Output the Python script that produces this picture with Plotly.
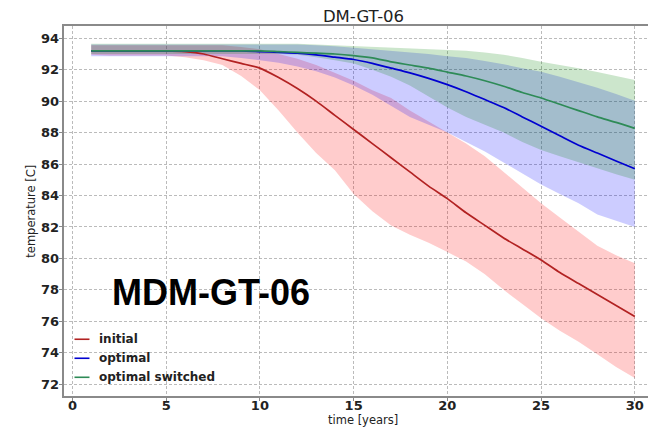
import plotly.graph_objects as go

# ---------------- data ----------------
years = list(range(1, 31))

initial_mean = [93.2, 93.2, 93.2, 93.2, 93.2, 93.15, 93.0, 92.7, 92.4, 92.1,
                91.5, 90.8, 90.0, 89.1, 88.2, 87.3, 86.4, 85.5, 84.6, 83.8,
                82.9, 82.1, 81.3, 80.6, 79.9, 79.1, 78.4, 77.7, 77.0, 76.3]
initial_low = [92.95, 92.9, 92.9, 92.9, 92.9, 92.8, 92.6, 92.3, 91.6, 90.7,
               89.4, 88.0, 86.7, 85.6, 84.1, 83.0, 82.1, 81.5, 81.0, 80.4,
               79.8, 79.0, 78.0, 77.1, 76.2, 75.4, 74.7, 73.9, 73.1, 72.4]
initial_high = [93.55, 93.55, 93.55, 93.55, 93.55, 93.55, 93.55, 93.55, 93.45, 93.3,
                93.0, 92.7, 92.3, 91.8, 91.3, 90.7, 90.2, 89.4, 88.7, 88.0,
                87.3, 86.5, 85.5, 84.5, 83.5, 82.6, 81.7, 80.8, 80.2, 79.7]

optimal_mean = [93.2, 93.2, 93.2, 93.2, 93.2, 93.2, 93.2, 93.2, 93.2, 93.15,
                93.1, 93.05, 92.95, 92.8, 92.65, 92.4, 92.1, 91.8, 91.45, 91.05,
                90.6, 90.1, 89.6, 89.0, 88.4, 87.8, 87.2, 86.7, 86.2, 85.7]
optimal_low = [92.85, 92.85, 92.85, 92.85, 92.85, 92.85, 92.85, 92.85, 92.75, 92.6,
               92.45, 92.2, 91.9, 91.5, 91.0, 90.4, 89.7, 89.0, 88.5, 88.0,
               87.4, 86.8, 86.1, 85.4, 84.7, 84.1, 83.5, 82.8, 82.4, 82.0]
optimal_high = [93.6, 93.6, 93.6, 93.6, 93.6, 93.6, 93.6, 93.6, 93.6, 93.6,
                93.6, 93.6, 93.55, 93.5, 93.4, 93.3, 93.2, 93.1, 93.0, 92.85,
                92.75, 92.55, 92.35, 92.1, 91.87, 91.55, 91.2, 90.85, 90.45, 90.03]

switched_mean = [93.2, 93.2, 93.2, 93.2, 93.2, 93.2, 93.2, 93.2, 93.2, 93.2,
                 93.15, 93.1, 93.05, 93.0, 92.9, 92.75, 92.5, 92.3, 92.1, 91.85,
                 91.6, 91.3, 90.95, 90.55, 90.2, 89.8, 89.4, 89.0, 88.65, 88.27]
switched_low = [93.0, 93.0, 93.0, 93.0, 93.0, 93.0, 93.0, 93.0, 93.0, 93.0,
                93.0, 92.95, 92.8, 92.6, 92.4, 92.0, 91.55, 91.0, 90.3, 89.6,
                89.0, 88.5, 88.0, 87.4, 86.9, 86.5, 86.1, 85.7, 85.35, 85.0]
switched_high = [93.65, 93.65, 93.65, 93.65, 93.65, 93.65, 93.65, 93.65, 93.65, 93.65,
                 93.65, 93.65, 93.6, 93.55, 93.5, 93.45, 93.4, 93.35, 93.3, 93.25,
                 93.2, 93.1, 92.95, 92.75, 92.5, 92.3, 92.1, 91.85, 91.6, 91.35]

series_names = ["initial", "optimal", "optimal switched"]
line_colors = ["#b22222", "#0000d0", "#2e8b57"]
band_colors = ["rgba(255,0,0,0.2)", "rgba(0,0,255,0.2)", "rgba(0,128,0,0.2)"]

x_ticks = [0, 5, 10, 15, 20, 25, 30]
y_ticks = [72, 74, 76, 78, 80, 82, 84, 86, 88, 90, 92, 94]

means = [initial_mean, optimal_mean, switched_mean]
lows = [initial_low, optimal_low, switched_low]
highs = [initial_high, optimal_high, switched_high]

# ---------------- layout geometry (page shifted by 8px body margin) ----------------
OFF = 8
FW, FH = 656, 429
ML, MR, MT = 63.5 - OFF, 2.0, 26.0 - OFF
PLOT_BOTTOM = 395.7 - OFF
MB = FH - PLOT_BOTTOM
PW = FW - ML - MR
PH = PLOT_BOTTOM - MT


def px_to_paper_x(px_page):
    return (px_page - OFF - ML) / PW


def px_to_paper_y(py_page):
    return (PLOT_BOTTOM - (py_page - OFF)) / PH


# ---------------- figure ----------------
fig = go.Figure()

for lo, hi, bc in zip(lows, highs, band_colors):
    fig.add_trace(go.Scatter(x=years, y=lo, mode="lines", line=dict(width=0),
                             showlegend=False, hoverinfo="skip"))
    fig.add_trace(go.Scatter(x=years, y=hi, mode="lines", line=dict(width=0),
                             fill="tonexty", fillcolor=bc,
                             showlegend=False, hoverinfo="skip"))

for m, name, lc in zip(means, series_names, line_colors):
    fig.add_trace(go.Scatter(x=years, y=m, mode="lines", name=name,
                             line=dict(color=lc, width=1.7, shape="spline", smoothing=0.6),
                             showlegend=False))

# manual legend (upper-left block, matplotlib style)
leg_y = [339, 358, 377]
for name, lc, yy in zip(series_names, line_colors, leg_y):
    yp = px_to_paper_y(yy)
    fig.add_shape(type="line", xref="paper", yref="paper",
                  x0=px_to_paper_x(74), x1=px_to_paper_x(89), y0=yp, y1=yp,
                  line=dict(color=lc, width=1.6))
    fig.add_annotation(xref="paper", yref="paper", x=px_to_paper_x(97), y=yp,
                       text=f"<b>{name}</b>", showarrow=False,
                       xanchor="left", yanchor="middle",
                       font=dict(family="DejaVu Sans", size=12, color="#222"))

fig.add_annotation(x=7.38, y=77.85, xref="x", yref="y", text="<b>MDM-GT-06</b>",
                   showarrow=False, xanchor="center", yanchor="middle",
                   font=dict(family="Liberation Sans", size=36, color="black"))

# axis titles
fig.add_annotation(xref="paper", yref="paper", x=px_to_paper_x(363), y=px_to_paper_y(420),
                   text="time [years]", showarrow=False, xanchor="center", yanchor="middle",
                   font=dict(family="DejaVu Sans", size=11.5, color="#222"))
fig.add_annotation(xref="paper", yref="paper", x=px_to_paper_x(31), y=px_to_paper_y(211),
                   text="temperature [C]", showarrow=False, textangle=-90,
                   xanchor="center", yanchor="middle",
                   font=dict(family="DejaVu Sans", size=11.5, color="#222"))

axis_common = dict(
    showgrid=True, gridcolor="rgba(170,170,170,0.8)", gridwidth=0.8,
    griddash="3px,2px", zeroline=False,
    showline=True, linecolor="#8a8a8a", linewidth=1.5,
    ticks="outside", ticklen=3.5, tickcolor="#8a8a8a", tickwidth=1,
    tickfont=dict(family="DejaVu Sans", size=13, color="#222"),
)

fig.update_layout(
    width=FW, height=FH,
    margin=dict(l=ML, r=MR, t=MT, b=MB, autoexpand=False),
    plot_bgcolor="white", paper_bgcolor="white",
    showlegend=False,
    title=dict(text="DM-GT-06", x=(363.5 - OFF) / FW, xanchor="center",
               y=1 - (16 - OFF) / FH, yanchor="middle",
               font=dict(family="DejaVu Sans", size=16.5, color="#222")),
    xaxis=dict(range=[-0.45, 31.45], tickvals=x_ticks,
               ticktext=[f"<b>{v}</b>" for v in x_ticks], mirror=True,
               ticklabelstandoff=-7, automargin=False, **axis_common),
    yaxis=dict(range=[71.25, 94.78], tickvals=y_ticks,
               ticktext=[f"<b>{v}</b>" for v in y_ticks],
               ticklabelstandoff=-3, automargin=False, **axis_common),
)

fig.write_html("out.html")
